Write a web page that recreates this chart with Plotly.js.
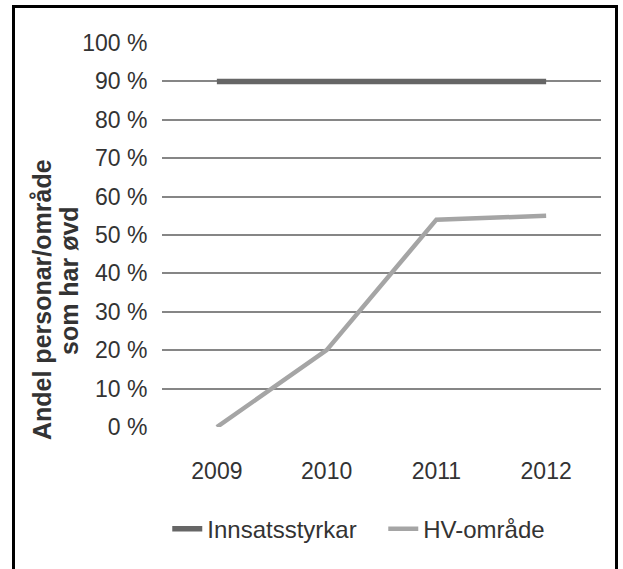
<!DOCTYPE html>
<html><head><meta charset="utf-8">
<script src="https://cdn.plot.ly/plotly-3.0.1.min.js"></script>
<style>
html,body{margin:0;padding:0;background:#fff;}
#wrap{position:relative;width:623px;height:569px;overflow:hidden;}
#chart{width:623px;height:569px;}
#frame{position:absolute;left:12px;top:5px;width:606px;height:600px;border:3px solid #000;box-sizing:border-box;pointer-events:none;}
</style></head>
<body><div id="wrap"><div id="chart"></div><div id="frame"></div></div>
<script>
const years = ['2009','2010','2011','2012'];
const innsatsstyrkar = [90, 90, 90, 90];
const hvOmrade = [0, 20, 54, 55];
const yTicks = [0,10,20,30,40,50,60,70,80,90,100];
const yTickText = yTicks.map(v => v + ' %');
const yTitleLines = ['Andel personar/område', 'som har øvd'];

const traces = [
  {x: years, y: innsatsstyrkar, name: 'Innsatsstyrkar', mode: 'lines', line: {color: '#666666', width: 5.5}},
  {x: years, y: hvOmrade, name: 'HV-område', mode: 'lines', line: {color: '#a5a5a5', width: 4.5}}
];
const layout = {
  width: 623, height: 569,
  margin: {l: 162, r: 22, t: 43, b: 142},
  paper_bgcolor: '#fff', plot_bgcolor: '#fff',
  font: {family: 'Liberation Sans, Arial, sans-serif', size: 23, color: '#333'},
  showlegend: true,
  legend: {orientation: 'h', x: 0.012, xanchor: 'left', y: -0.266, yanchor: 'middle',
    font: {size: 24, color: '#333'}, itemwidth: 30, entrywidth: 171, entrywidthmode: 'pixels'},
  xaxis: {type: 'category', range: [-0.5, 3.5], showgrid: false, zeroline: false, showline: false,
    ticks: 'outside', ticklen: 23, tickcolor: 'rgba(0,0,0,0)', tickfont: {size: 23, color: '#333'}},
  yaxis: {range: [0, 100], tickvals: yTicks, ticktext: yTickText, showgrid: true, gridcolor: '#868686', gridwidth: 2,
    zeroline: false, showline: false, ticks: 'outside', ticklen: 9, tickcolor: 'rgba(0,0,0,0)',
    tickfont: {size: 23, color: '#333'}},
  annotations: [
    {text: '<b>' + yTitleLines[0] + '</b>', xref: 'paper', yref: 'paper', x: -0.2733, y: 0.3307,
      xanchor: 'center', yanchor: 'middle', textangle: -90, showarrow: false, font: {size: 25, color: '#333'}},
    {text: '<b>' + yTitleLines[1] + '</b>', xref: 'paper', yref: 'paper', x: -0.2118, y: 0.3802,
      xanchor: 'center', yanchor: 'middle', textangle: -90, showarrow: false, font: {size: 25, color: '#333'}}
  ]
};
Plotly.newPlot('chart', traces, layout, {displayModeBar: false, staticPlot: true});
</script></body></html>
